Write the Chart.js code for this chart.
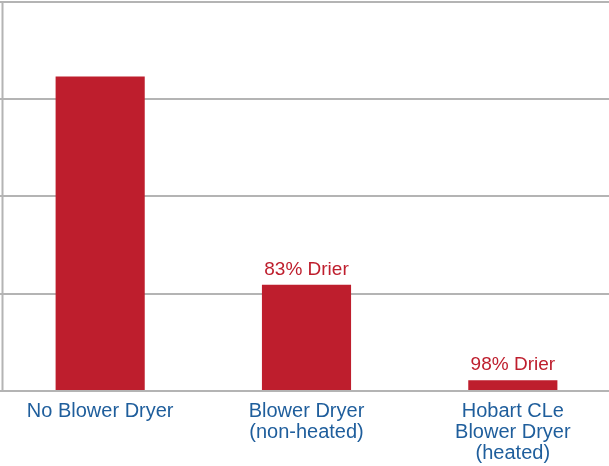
<!DOCTYPE html>
<html>
<head>
<meta charset="utf-8">
<script src="https://cdn.jsdelivr.net/npm/chart.js@4/dist/chart.umd.min.js"></script>
<style>
  html, body { margin: 0; padding: 0; background: #fff; overflow: hidden; }
  #wrap { position: relative; margin-left: -3px; width: 619px; height: 466px; }
</style>
</head>
<body>
<div id="wrap"><canvas id="grafico"></canvas></div>
<script>
const categorias = [
  ["No Blower Dryer"],
  ["Blower Dryer", "(non-heated)"],
  ["Hobart CLe", "Blower Dryer", "(heated)"]
];
const valores = [3.23, 1.09, 0.11];
const etiquetas = ["", "83% Drier", "98% Drier"];
const ejeY = [0, 1, 2, 3, 4];

const rojo = "#BE1E2D";
const azul = "#1F5E9C";
const gris = "#B4B4B4";
const fuente = "'Liberation Sans', Arial, sans-serif";

// etiquetas encima de las barras
const etiquetasBarras = {
  id: "etiquetasBarras",
  afterDatasetsDraw(chart) {
    const ctx = chart.ctx;
    const meta = chart.getDatasetMeta(0);
    ctx.save();
    ctx.font = "19px " + fuente;
    ctx.fillStyle = rojo;
    ctx.textAlign = "center";
    ctx.textBaseline = "bottom";
    meta.data.forEach((bar, i) => {
      if (etiquetas[i]) ctx.fillText(etiquetas[i], bar.x, bar.y - 6);
    });
    ctx.restore();
  }
};

// linea vertical de la izquierda
const bordeIzquierdo = {
  id: "bordeIzquierdo",
  beforeDatasetsDraw(chart) {
    const { ctx, chartArea } = chart;
    const x = chartArea.left + 5.5;
    ctx.save();
    ctx.strokeStyle = gris;
    ctx.lineWidth = 2;
    ctx.beginPath();
    ctx.moveTo(x, chartArea.top);
    ctx.lineTo(x, chartArea.bottom + 1);
    ctx.stroke();
    ctx.restore();
  }
};

const ctx = document.getElementById("grafico").getContext("2d");
new Chart(ctx, {
  type: "bar",
  data: {
    labels: categorias,
    datasets: [{
      data: valores,
      backgroundColor: rojo,
      borderWidth: 0,
      categoryPercentage: 1,
      barPercentage: 0.432
    }]
  },
  options: {
    responsive: true,
    maintainAspectRatio: false,
    animation: false,
    layout: { padding: { top: 1.5, left: 0, right: 0, bottom: 0 } },
    scales: {
      x: {
        grid: { display: false },
        border: { display: false },
        ticks: {
          color: azul,
          padding: 2,
          maxRotation: 0,
          autoSkip: false,
          font: { family: fuente, size: 20, lineHeight: 1.05 }
        }
      },
      y: {
        min: ejeY[0],
        max: ejeY[ejeY.length - 1],
        afterBuildTicks: (axis) => { axis.ticks = ejeY.map(v => ({ value: v })); },
        ticks: { display: false },
        grid: { color: gris, lineWidth: 2, drawTicks: false },
        border: { display: false }
      }
    },
    plugins: {
      legend: { display: false },
      tooltip: { enabled: false }
    }
  },
  plugins: [bordeIzquierdo, etiquetasBarras]
});
</script>
</body>
</html>
